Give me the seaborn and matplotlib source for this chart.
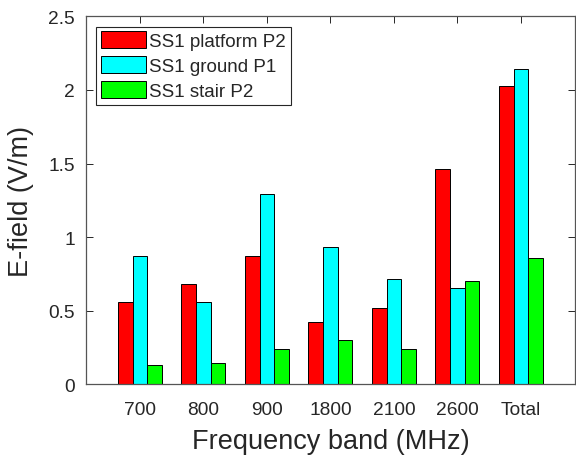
import numpy as np
import pandas as pd
import matplotlib
matplotlib.use('Agg')
import matplotlib.pyplot as plt
import matplotlib.ticker as mticker
import seaborn as sns

# %% Data
bands = ['700', '800', '900', '1800', '2100', '2600', 'Total']
series = ['SS1 platform P2', 'SS1 ground P1', 'SS1 stair P2']
platform_p2 = [0.56, 0.68, 0.87, 0.42, 0.52, 1.46, 2.03]
ground_p1 = [0.875, 0.56, 1.29, 0.935, 0.715, 0.655, 2.145]
stair_p2 = [0.13, 0.145, 0.24, 0.30, 0.24, 0.70, 0.86]
colors = ['#ff0000', '#00ffff', '#00ff00']

# Long form for seaborn
df = pd.DataFrame({'band': bands * 3,
                   'series': np.repeat(series, len(bands)),
                   'value': platform_p2 + ground_p1 + stair_p2})

# %% Plot
sns.set_theme(style='white')
plt.rcParams['font.family'] = ['Liberation Sans', 'DejaVu Sans']
dark = '#262626'

fig = plt.figure(figsize=(5.76, 4.56), dpi=100)
ax = fig.add_axes([0.149, 0.155, 0.849, 0.807])

sns.barplot(data=df, x='band', y='value', hue='series', order=bands, hue_order=series,
            palette=colors, width=0.69, edgecolor='black', linewidth=0.7,
            saturation=1, errorbar=None, ax=ax)

ax.set_xlim(-0.85, 6.85)
ax.set_ylim(0, 2.5)
ax.set_yticks([0, 0.5, 1, 1.5, 2, 2.5])
ax.yaxis.set_major_formatter(mticker.FormatStrFormatter('%g'))
ax.set_xlabel('Frequency band (MHz)', fontsize=19.5, color=dark, labelpad=7)
ax.set_ylabel('E-field (V/m)', fontsize=19.5, color=dark, labelpad=10)

ax.tick_params(direction='in', length=5, width=0.7, colors=dark, labelsize=13.8,
               top=True, right=True, bottom=True, left=True, pad=8)
ax.tick_params(axis='x', pad=12)
for s in ax.spines.values():
    s.set_color('#555555')
    s.set_linewidth(0.9)

h, l = ax.get_legend_handles_labels()
ax.legend(h, l, loc='upper left', fontsize=13.5, frameon=True, fancybox=False,
          edgecolor=dark, framealpha=1, handlelength=2.4, handleheight=1.0,
          labelspacing=0.33, handletextpad=0.18, borderpad=0.25, borderaxespad=0.55)
ax.get_legend().get_frame().set_linewidth(0.8)

fig.savefig('out.png', dpi=100)
